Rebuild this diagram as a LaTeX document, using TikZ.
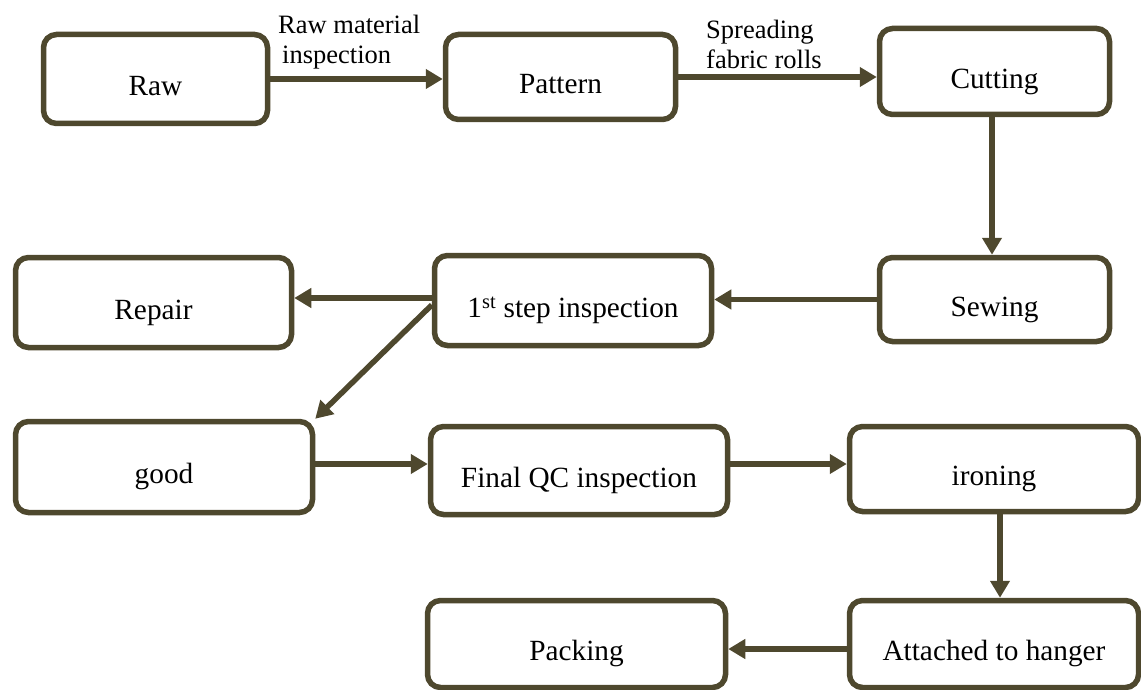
\documentclass[tikz,border=0pt]{standalone}
\usepackage{fontspec}
\setmainfont{Liberation Serif}
\usetikzlibrary{arrows.meta}
\definecolor{boxol}{RGB}{78,72,46}
\begin{document}
\begin{tikzpicture}[x=1pt,y=-1pt,
  procbox/.style={draw=boxol, line width=5.5pt, rounded corners=13pt, rectangle, inner sep=0pt,
    font=\fontsize{29.3}{35}\selectfont, text height=33.4pt, text depth=0pt},
  arr/.style={draw=boxol, line width=5.5pt, -{Triangle[length=17pt,width=19pt]}},
  lab/.style={inner sep=0pt, align=left, font=\fontsize{26.5}{30}\selectfont, anchor=base west}]
\useasboundingbox (0,0) rectangle (1141,690);

\node[procbox, minimum width=224pt, minimum height=89pt] (raw) at (155.5,79) {Raw};
\node[procbox, minimum width=230pt, minimum height=85pt] (pattern) at (560.5,77) {Pattern};
\node[procbox, minimum width=230pt, minimum height=86pt] (cutting) at (994.5,71.5) {Cutting};
\node[procbox, minimum width=276pt, minimum height=90pt] (repair) at (153.5,302.5) {Repair};
\node[procbox, minimum width=277pt, minimum height=90pt] (step1) at (573,300.5) {1\textsuperscript{st} step inspection};
\node[procbox, minimum width=230pt, minimum height=84pt] (sewing) at (994.5,299.5) {Sewing};
\node[procbox, minimum width=297pt, minimum height=91pt] (good) at (164,467) {good};
\node[procbox, minimum width=297pt, minimum height=88pt] (fqc) at (579,470.5) {Final QC inspection};
\node[procbox, minimum width=289pt, minimum height=85pt] (ironing) at (994,469) {ironing};
\node[procbox, minimum width=298pt, minimum height=87pt] (packing) at (576.5,644) {Packing};
\node[procbox, minimum width=289pt, minimum height=87pt] (attached) at (994,644) {Attached to hanger};

\node[lab] (lab1) at (278,63.3) {Raw material\\\hspace*{4pt}inspection};
\node[lab] (lab2) at (706,68.5) {Spreading\\fabric rolls};

\draw[arr] (raw.east) -- (pattern.west |- raw.east);
\draw[arr] (pattern.east) -- (cutting.west |- pattern.east);
\draw[arr] ([xshift=-2.5pt]cutting.south) coordinate (c1) -- (sewing.north -| c1);
\draw[arr] (sewing.west) -- (step1.east |- sewing.west);
\draw[arr] ([yshift=2.5pt]step1.west) coordinate (c2) -- (repair.east |- c2);
\draw[arr] ([yshift=-4.5pt]step1.west) -- (good.north east);
\draw[arr] ([yshift=3pt]good.east) coordinate (c3) -- (fqc.west |- c3);
\draw[arr] ([yshift=6.5pt]fqc.east) coordinate (c4) -- (ironing.west |- c4);
\draw[arr] ([xshift=6pt]ironing.south) coordinate (c5) -- (attached.north -| c5);
\draw[arr] ([yshift=-5pt]attached.west) coordinate (c6) -- (packing.east |- c6);
\end{tikzpicture}
\end{document}
